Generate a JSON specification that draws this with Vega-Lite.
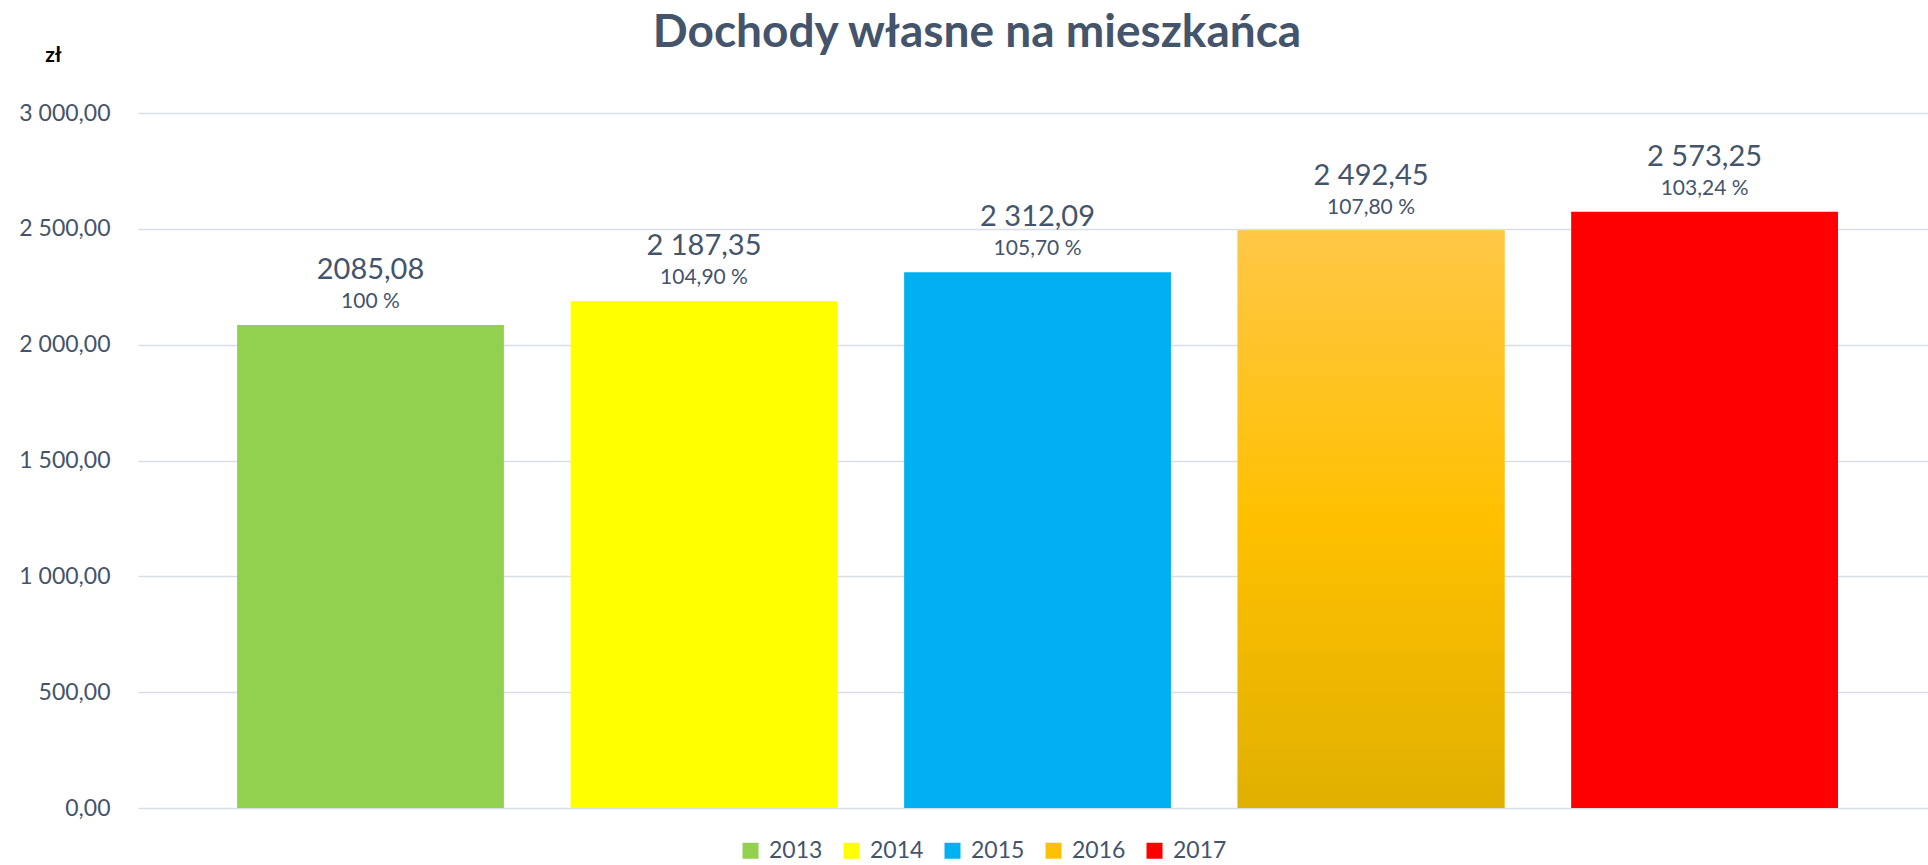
{
  "$schema": "https://vega.github.io/schema/vega-lite/v6.json",
  "width": 1790,
  "height": 695,
  "autosize": {"type": "none"},
  "padding": {"left": 138, "top": 113, "right": 0, "bottom": 57},
  "background": "white",
  "config": {
    "locale": {"number": {"decimal": ",", "thousands": " ", "grouping": [3], "currency": ["", " zł"]}},
    "view": {"stroke": null},
    "font": "Lato"
  },
  "title": {
    "text": "Dochody własne na mieszkańca",
    "font": "Lato",
    "fontSize": 46,
    "fontWeight": "bold",
    "color": "#44546A",
    "anchor": "middle",
    "frame": "group",
    "dx": -56,
    "baseline": "alphabetic",
    "offset": -49
  },
  "data": {
    "values": [
      {"rok": "2013", "wartosc": 2085.08, "etykieta": "2085,08", "procent": "100 %"},
      {"rok": "2014", "wartosc": 2187.35, "etykieta": "2 187,35", "procent": "104,90 %"},
      {"rok": "2015", "wartosc": 2312.09, "etykieta": "2 312,09", "procent": "105,70 %"},
      {"rok": "2016", "wartosc": 2492.45, "etykieta": "2 492,45", "procent": "107,80 %"},
      {"rok": "2017", "wartosc": 2573.25, "etykieta": "2  573,25", "procent": "103,24 %"}
    ]
  },
  "encoding": {
    "x": {"field": "rok", "type": "nominal", "axis": null, "scale": {"paddingInner": 0.2, "paddingOuter": 0.2835, "align": 0.524}},
    "y": {
      "field": "wartosc",
      "type": "quantitative",
      "scale": {"domain": [0, 3000]},
      "axis": {
        "values": [0, 500, 1000, 1500, 2000, 2500, 3000],
        "format": ",.2f",
        "domain": false,
        "ticks": false,
        "grid": true,
        "gridColor": "#D9DEE4",
        "gridWidth": 1.5,
        "labelFont": "Lato",
        "labelFontSize": 23,
        "labelColor": "#44546A",
        "labelPadding": 28,
        "title": "zł",
        "titleAngle": 0,
        "titleX": -85,
        "titleY": -52,
        "titleAlign": "center",
        "titleBaseline": "alphabetic",
        "titleFont": "Lato",
        "titleFontSize": 21,
        "titleFontWeight": "bold",
        "titleColor": "#000000"
      }
    }
  },
  "layer": [
    {
      "mark": {"type": "bar"},
      "encoding": {
        "color": {
          "field": "rok",
          "type": "nominal",
          "scale": {"domain": ["2013", "2014", "2015", "2016", "2017"], "range": ["#92D050", "#FFFF00", "#00B0F0", "#FFC000", "#FF0000"]},
          "legend": {
            "title": null,
            "orient": "none",
            "direction": "horizontal",
            "legendX": 601,
            "legendY": 726,
            "symbolType": "square",
            "symbolSize": 256,
            "symbolStrokeWidth": 0,
            "labelFont": "Lato",
            "labelFontSize": 23,
            "labelColor": "#44546A",
            "labelOffset": 7,
            "columnPadding": 17
          }
        }
      }
    },
    {
      "transform": [{"filter": "datum.rok === '2016'"}],
      "mark": {
        "type": "bar",
        "fill": {
          "gradient": "linear",
          "x1": 0, "y1": 0, "x2": 0, "y2": 1,
          "stops": [
            {"offset": 0, "color": "#FFC746"},
            {"offset": 0.5, "color": "#FFC000"},
            {"offset": 1, "color": "#E0B000"}
          ]
        }
      }
    },
    {
      "mark": {"type": "text", "baseline": "alphabetic", "dy": -46, "fontSize": 29, "color": "#44546A", "font": "Lato"},
      "encoding": {"text": {"field": "etykieta"}}
    },
    {
      "mark": {"type": "text", "baseline": "alphabetic", "dy": -17, "fontSize": 21, "color": "#44546A", "font": "Lato"},
      "encoding": {"text": {"field": "procent"}}
    }
  ]
}
